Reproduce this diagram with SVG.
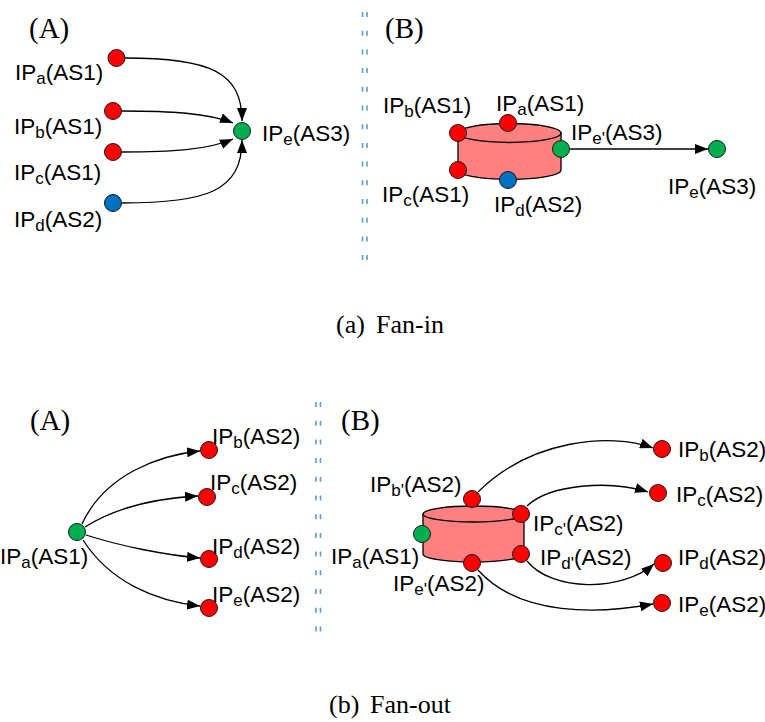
<svg xmlns="http://www.w3.org/2000/svg" width="765" height="722" viewBox="0 0 765 722">
<style>
.lbl{font-family:"Liberation Sans",Arial,sans-serif;font-size:22.5px;fill:#000}
.sub{font-size:17px}
.ttl{font-family:"Liberation Serif","Times New Roman",serif;font-size:29px;fill:#000}
.cap{font-family:"Liberation Serif","Times New Roman",serif;font-size:26px;fill:#000}
.edge{fill:none;stroke:#000;stroke-width:1.3;marker-end:url(#arr)}
.sep{stroke:#5b9bd5;stroke-width:1.6;stroke-dasharray:5 13.7}
.dot{stroke:#1a1a1a;stroke-width:1}
.red{fill:#ff0000}
.grn{fill:#00b050}
.blu{fill:#0070c0}
.cyl{fill:#ff8080;stroke:#000;stroke-width:1.3}
</style>
<defs>
<marker id="arr" markerUnits="userSpaceOnUse" markerWidth="13" markerHeight="10" refX="13" refY="5" orient="auto">
<path d="M0,0 L13,5 L0,10 z" fill="#000"/>
</marker>
</defs>
<rect width="765" height="722" fill="#fff"/>

<!-- separators -->
<g id="separators">
<line class="sep" x1="362.5" y1="12" x2="362.5" y2="260"/>
<line class="sep" x1="367" y1="12" x2="367" y2="260"/>
<line class="sep" x1="316" y1="402" x2="316" y2="633"/>
<line class="sep" x1="320.5" y1="402" x2="320.5" y2="633"/>
</g>

<!-- titles -->
<text class="ttl" x="29" y="38">(A)</text>
<text class="ttl" x="385" y="38">(B)</text>
<text class="ttl" x="30" y="430">(A)</text>
<text class="ttl" x="341" y="430">(B)</text>
<text class="cap" x="336" y="333">(a)</text><text class="cap" x="376" y="333">Fan-in</text>
<text class="cap" x="329" y="713">(b)</text><text class="cap" x="370" y="713">Fan-out</text>

<!-- cylinders -->
<g id="cyl-top">
<path class="cyl" d="M458,133 L458,170 A51.5,9.5 0 0 0 561,170 L561,133 Z"/>
<ellipse class="cyl" cx="509.5" cy="133" rx="51.5" ry="9.5"/>
</g>
<g id="cyl-bottom">
<path class="cyl" d="M423,514 L423,554 A50.5,8 0 0 0 524,554 L524,514 Z"/>
<ellipse class="cyl" cx="473.5" cy="514" rx="50.5" ry="8"/>
</g>

<!-- connectors -->
<g id="connectors">
<path class="edge" d="M125,58 C210,58 242,72 242,121"/>
<path class="edge" d="M122,111 C170,111 208,113 233,123"/>
<path class="edge" d="M122,152 C170,152 208,150 233,139"/>
<path class="edge" d="M122,203 C205,203 242,192 242,140"/>
<path class="edge" d="M570,149 L708,149"/>
<path class="edge" d="M82,524 C105,474 160,455 200,451"/>
<path class="edge" d="M85,527 C120,505 160,498 198,496"/>
<path class="edge" d="M86,535 C120,546 165,555 200,558"/>
<path class="edge" d="M83,540 C110,582 155,601 200,606"/>
<path class="edge" d="M478,492 C530,440 610,432 653,448"/>
<path class="edge" d="M527,506 C550,484 610,480 648,492"/>
<path class="edge" d="M527,561 C552,592 622,592 654,564"/>
<path class="edge" d="M478,570 C520,617 600,614 653,604"/>
</g>

<!-- fan-in A -->
<g id="fi-a-IPa"><circle class="dot red" cx="116.5" cy="58" r="8.5"/><text class="lbl" x="15" y="80">IP<tspan class="sub" dy="4">a</tspan><tspan dy="-4">(AS1)</tspan></text></g>
<g id="fi-a-IPb"><circle class="dot red" cx="113" cy="111" r="8.5"/><text class="lbl" x="14" y="134">IP<tspan class="sub" dy="4">b</tspan><tspan dy="-4">(AS1)</tspan></text></g>
<g id="fi-a-IPc"><circle class="dot red" cx="113" cy="152" r="8.5"/><text class="lbl" x="14" y="180">IP<tspan class="sub" dy="4">c</tspan><tspan dy="-4">(AS1)</tspan></text></g>
<g id="fi-a-IPd"><circle class="dot blu" cx="113" cy="203" r="8.5"/><text class="lbl" x="14" y="227">IP<tspan class="sub" dy="4">d</tspan><tspan dy="-4">(AS2)</tspan></text></g>
<g id="fi-a-IPe"><circle class="dot grn" cx="242" cy="131" r="8.5"/><text class="lbl" x="262" y="141">IP<tspan class="sub" dy="4">e</tspan><tspan dy="-4">(AS3)</tspan></text></g>

<!-- fan-in B -->
<g id="fi-b-IPb"><circle class="dot red" cx="458" cy="133" r="8.5"/><text class="lbl" x="383" y="113">IP<tspan class="sub" dy="4">b</tspan><tspan dy="-4">(AS1)</tspan></text></g>
<g id="fi-b-IPa"><circle class="dot red" cx="508" cy="123" r="8.5"/><text class="lbl" x="496" y="111">IP<tspan class="sub" dy="4">a</tspan><tspan dy="-4">(AS1)</tspan></text></g>
<g id="fi-b-IPe1"><circle class="dot grn" cx="561" cy="149" r="8.5"/><text class="lbl" x="571" y="140">IP<tspan class="sub" dy="4">e'</tspan><tspan dy="-4">(AS3)</tspan></text></g>
<g id="fi-b-IPc"><circle class="dot red" cx="458" cy="170" r="8.5"/><text class="lbl" x="382" y="202">IP<tspan class="sub" dy="4">c</tspan><tspan dy="-4">(AS1)</tspan></text></g>
<g id="fi-b-IPd"><circle class="dot blu" cx="508" cy="180" r="8.5"/><text class="lbl" x="494" y="212">IP<tspan class="sub" dy="4">d</tspan><tspan dy="-4">(AS2)</tspan></text></g>
<g id="fi-b-IPe"><circle class="dot grn" cx="717" cy="149" r="8.5"/><text class="lbl" x="668" y="194">IP<tspan class="sub" dy="4">e</tspan><tspan dy="-4">(AS3)</tspan></text></g>

<!-- fan-out A -->
<g id="fo-a-IPa"><circle class="dot grn" cx="77" cy="532" r="8.5"/><text class="lbl" x="0" y="564">IP<tspan class="sub" dy="4">a</tspan><tspan dy="-4">(AS1)</tspan></text></g>
<g id="fo-a-IPb"><circle class="dot red" cx="209" cy="450" r="8.5"/><text class="lbl" x="212" y="444">IP<tspan class="sub" dy="4">b</tspan><tspan dy="-4">(AS2)</tspan></text></g>
<g id="fo-a-IPc"><circle class="dot red" cx="207" cy="497" r="8.5"/><text class="lbl" x="210" y="490">IP<tspan class="sub" dy="4">c</tspan><tspan dy="-4">(AS2)</tspan></text></g>
<g id="fo-a-IPd"><circle class="dot red" cx="209" cy="559" r="8.5"/><text class="lbl" x="212" y="554">IP<tspan class="sub" dy="4">d</tspan><tspan dy="-4">(AS2)</tspan></text></g>
<g id="fo-a-IPe"><circle class="dot red" cx="209" cy="608" r="8.5"/><text class="lbl" x="212" y="602">IP<tspan class="sub" dy="4">e</tspan><tspan dy="-4">(AS2)</tspan></text></g>

<!-- fan-out B -->
<g id="fo-b-IPb1"><circle class="dot red" cx="472" cy="499" r="8.5"/><text class="lbl" x="370" y="492">IP<tspan class="sub" dy="4">b'</tspan><tspan dy="-4">(AS2)</tspan></text></g>
<g id="fo-b-IPc1"><circle class="dot red" cx="521" cy="514" r="8.5"/><text class="lbl" x="533" y="531">IP<tspan class="sub" dy="4">c'</tspan><tspan dy="-4">(AS2)</tspan></text></g>
<g id="fo-b-IPa"><circle class="dot grn" cx="422" cy="534" r="8.5"/><text class="lbl" x="331" y="564">IP<tspan class="sub" dy="4">a</tspan><tspan dy="-4">(AS1)</tspan></text></g>
<g id="fo-b-IPd1"><circle class="dot red" cx="521" cy="554" r="8.5"/><text class="lbl" x="540" y="565">IP<tspan class="sub" dy="4">d'</tspan><tspan dy="-4">(AS2)</tspan></text></g>
<g id="fo-b-IPe1"><circle class="dot red" cx="472" cy="563" r="8.5"/><text class="lbl" x="393" y="591">IP<tspan class="sub" dy="4">e'</tspan><tspan dy="-4">(AS2)</tspan></text></g>
<g id="fo-b-IPb"><circle class="dot red" cx="662" cy="449" r="8.5"/><text class="lbl" x="678" y="457">IP<tspan class="sub" dy="4">b</tspan><tspan dy="-4">(AS2)</tspan></text></g>
<g id="fo-b-IPc"><circle class="dot red" cx="658" cy="493" r="8.5"/><text class="lbl" x="676" y="502">IP<tspan class="sub" dy="4">c</tspan><tspan dy="-4">(AS2)</tspan></text></g>
<g id="fo-b-IPd"><circle class="dot red" cx="663" cy="563" r="8.5"/><text class="lbl" x="678" y="565">IP<tspan class="sub" dy="4">d</tspan><tspan dy="-4">(AS2)</tspan></text></g>
<g id="fo-b-IPe"><circle class="dot red" cx="662" cy="603" r="8.5"/><text class="lbl" x="678" y="612">IP<tspan class="sub" dy="4">e</tspan><tspan dy="-4">(AS2)</tspan></text></g>
</svg>
